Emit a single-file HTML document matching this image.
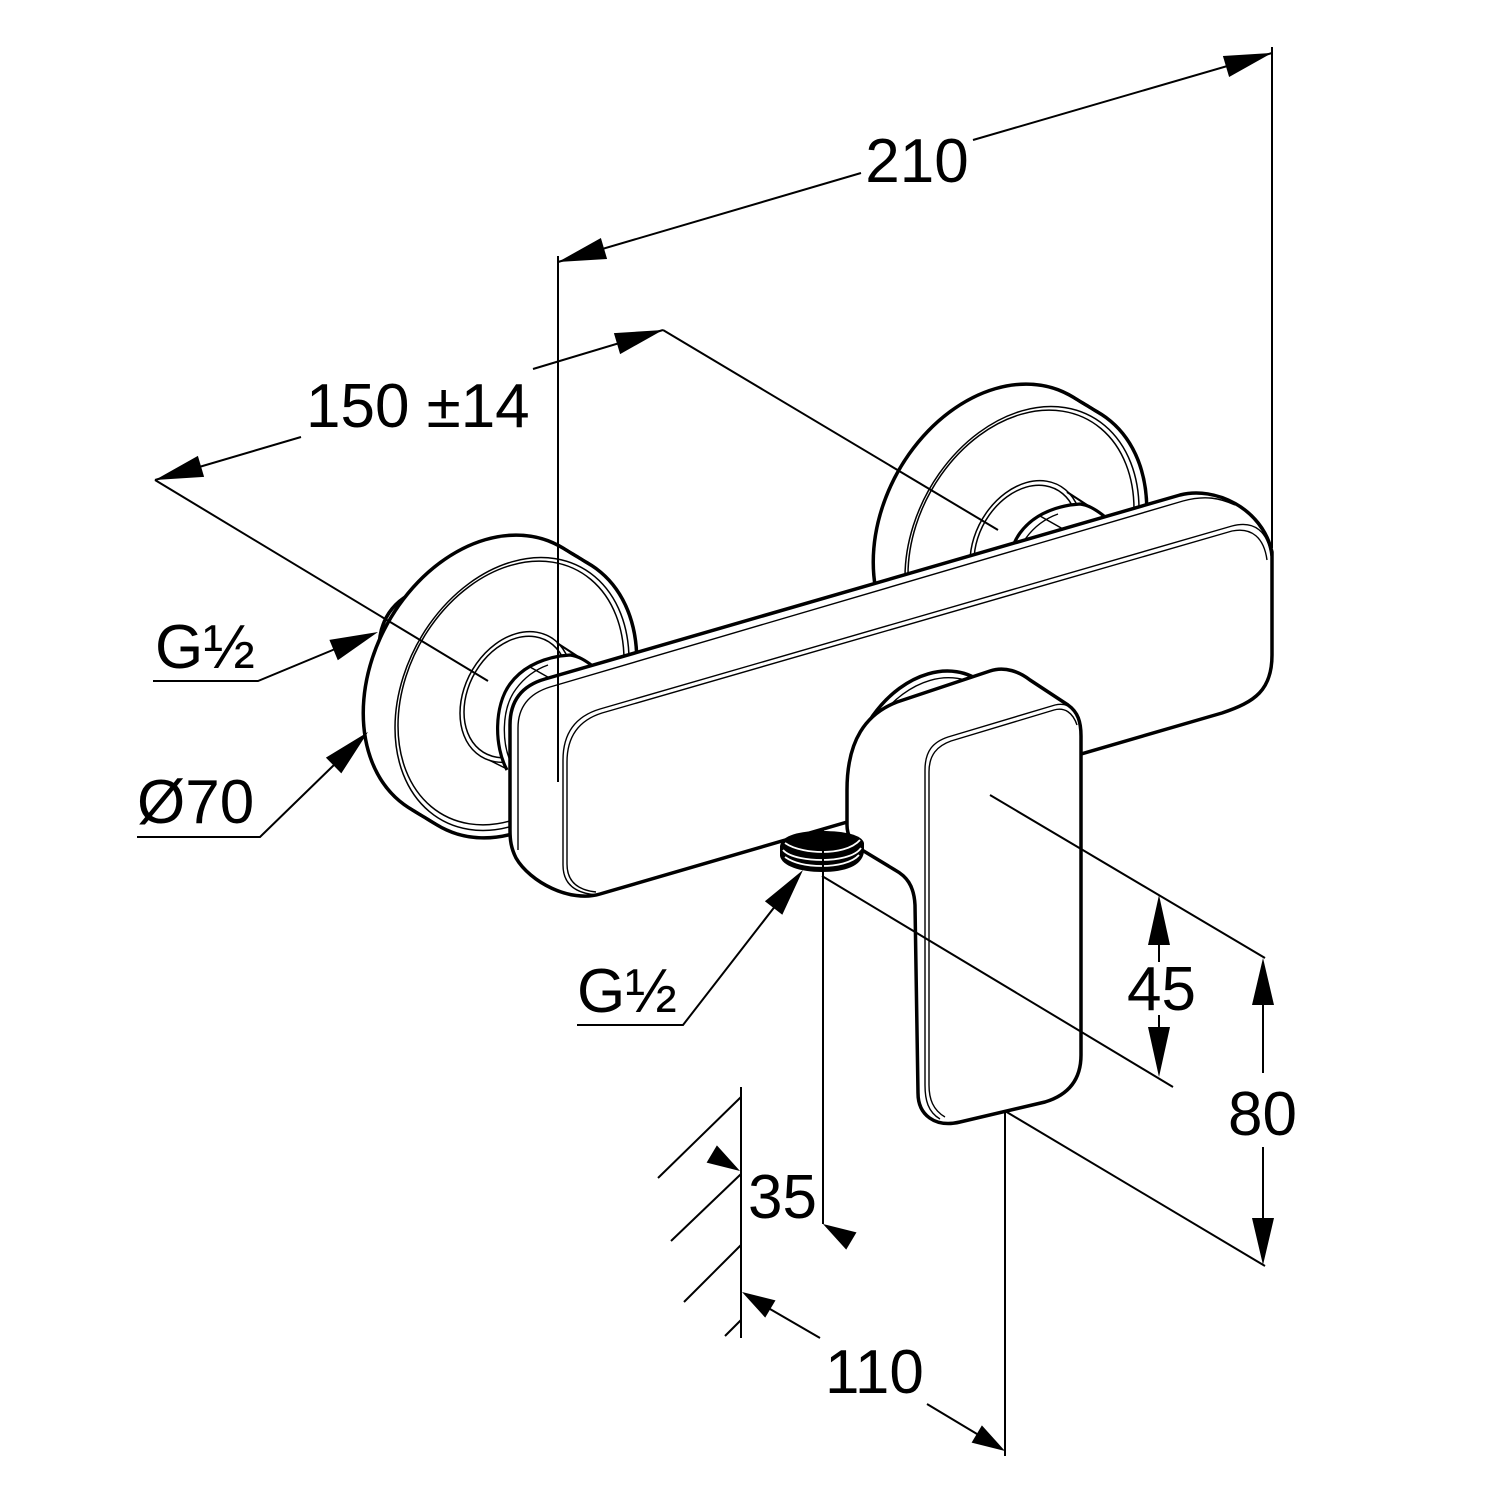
<!DOCTYPE html>
<html><head><meta charset="utf-8"><style>
html,body{margin:0;padding:0;background:#fff;}
svg{display:block;}
text{font-family:"Liberation Sans",Arial,sans-serif;font-size:62px;fill:#000;}
</style></head><body>
<svg width="1500" height="1500" viewBox="0 0 1500 1500" xmlns="http://www.w3.org/2000/svg">
<rect width="1500" height="1500" fill="#fff"/>

<!-- pipe stub behind left escutcheon -->
<path d="M380,658 C376,628 388,602 419,590" fill="none" stroke="#000" stroke-width="3.5"/>
<path d="M388,648 C386,625 396,606 416,597" fill="none" stroke="#000" stroke-width="1.5"/>

<!-- LEFT ESCUTCHEON -->
<g id="escL">
  <g fill="none" stroke="#000" stroke-width="7">
    <circle r="1" vector-effect="non-scaling-stroke" transform="matrix(121,-35.1,0,136.7,486,678)"/>
    <circle r="1" vector-effect="non-scaling-stroke" transform="matrix(121,-35.1,0,136.7,489.5,680.1)"/>
    <circle r="1" vector-effect="non-scaling-stroke" transform="matrix(121,-35.1,0,136.7,493,682.3)"/>
    <circle r="1" vector-effect="non-scaling-stroke" transform="matrix(121,-35.1,0,136.7,496.5,684.4)"/>
    <circle r="1" vector-effect="non-scaling-stroke" transform="matrix(121,-35.1,0,136.7,500,686.5)"/>
    <circle r="1" vector-effect="non-scaling-stroke" transform="matrix(121,-35.1,0,136.7,503.5,688.6)"/>
    <circle r="1" vector-effect="non-scaling-stroke" transform="matrix(121,-35.1,0,136.7,507,690.8)"/>
    <circle r="1" vector-effect="non-scaling-stroke" transform="matrix(121,-35.1,0,136.7,510.5,692.9)"/>
    <circle r="1" vector-effect="non-scaling-stroke" transform="matrix(121,-35.1,0,136.7,514,695)"/>
  </g>
  <g fill="#fff" stroke="none">
    <circle r="1" transform="matrix(121,-35.1,0,136.7,486,678)"/>
    <circle r="1" transform="matrix(121,-35.1,0,136.7,489.5,680.1)"/>
    <circle r="1" transform="matrix(121,-35.1,0,136.7,493,682.3)"/>
    <circle r="1" transform="matrix(121,-35.1,0,136.7,496.5,684.4)"/>
    <circle r="1" transform="matrix(121,-35.1,0,136.7,500,686.5)"/>
    <circle r="1" transform="matrix(121,-35.1,0,136.7,503.5,688.6)"/>
    <circle r="1" transform="matrix(121,-35.1,0,136.7,507,690.8)"/>
    <circle r="1" transform="matrix(121,-35.1,0,136.7,510.5,692.9)"/>
    <circle r="1" transform="matrix(121,-35.1,0,136.7,514,695)"/>
  </g>
  <g fill="none" stroke="#000" stroke-width="1.5">
    <circle r="1" vector-effect="non-scaling-stroke" transform="matrix(117,-33.9,0,132.2,512,694)"/>
    <circle r="1" vector-effect="non-scaling-stroke" transform="matrix(113,-32.8,0,127.7,511,693)"/>
    <circle r="1" vector-effect="non-scaling-stroke" transform="matrix(56,-16.2,0,63.3,516,697)"/>
    <circle r="1" vector-effect="non-scaling-stroke" transform="matrix(52,-15.1,0,58.8,516,697)"/>
  </g>
  <!-- connector -->
  <path d="M507,772 C494,747 494,706 510,684 C521,669 537,660 560,656 L572,655 L594,667 L610,720 L560,790 Z" fill="#fff"/>
  <path d="M507,770 C494,746 494,706 510,684 C521,669 537,660 560,656 L570,655 C578,656 585,660 594,667" fill="none" stroke="#000" stroke-width="3.2"/>
  <path d="M513,767 C501,745 501,709 516,689 C524,678 534,670 548,665" fill="none" stroke="#000" stroke-width="1.4"/>
  <path d="M530,667 L553,680" fill="none" stroke="#000" stroke-width="1.5"/>
  <path d="M557,643 L594,667" fill="none" stroke="#000" stroke-width="2"/>
  <path d="M489,760 L507,769" fill="none" stroke="#000" stroke-width="1.5"/>
</g>

<!-- RIGHT ESCUTCHEON -->
<g transform="translate(510,-151)">
  <g fill="none" stroke="#000" stroke-width="7">
    <circle r="1" vector-effect="non-scaling-stroke" transform="matrix(121,-35.1,0,136.7,486,678)"/>
    <circle r="1" vector-effect="non-scaling-stroke" transform="matrix(121,-35.1,0,136.7,489.5,680.1)"/>
    <circle r="1" vector-effect="non-scaling-stroke" transform="matrix(121,-35.1,0,136.7,493,682.3)"/>
    <circle r="1" vector-effect="non-scaling-stroke" transform="matrix(121,-35.1,0,136.7,496.5,684.4)"/>
    <circle r="1" vector-effect="non-scaling-stroke" transform="matrix(121,-35.1,0,136.7,500,686.5)"/>
    <circle r="1" vector-effect="non-scaling-stroke" transform="matrix(121,-35.1,0,136.7,503.5,688.6)"/>
    <circle r="1" vector-effect="non-scaling-stroke" transform="matrix(121,-35.1,0,136.7,507,690.8)"/>
    <circle r="1" vector-effect="non-scaling-stroke" transform="matrix(121,-35.1,0,136.7,510.5,692.9)"/>
    <circle r="1" vector-effect="non-scaling-stroke" transform="matrix(121,-35.1,0,136.7,514,695)"/>
  </g>
  <g fill="#fff" stroke="none">
    <circle r="1" transform="matrix(121,-35.1,0,136.7,486,678)"/>
    <circle r="1" transform="matrix(121,-35.1,0,136.7,489.5,680.1)"/>
    <circle r="1" transform="matrix(121,-35.1,0,136.7,493,682.3)"/>
    <circle r="1" transform="matrix(121,-35.1,0,136.7,496.5,684.4)"/>
    <circle r="1" transform="matrix(121,-35.1,0,136.7,500,686.5)"/>
    <circle r="1" transform="matrix(121,-35.1,0,136.7,503.5,688.6)"/>
    <circle r="1" transform="matrix(121,-35.1,0,136.7,507,690.8)"/>
    <circle r="1" transform="matrix(121,-35.1,0,136.7,510.5,692.9)"/>
    <circle r="1" transform="matrix(121,-35.1,0,136.7,514,695)"/>
  </g>
  <g fill="none" stroke="#000" stroke-width="1.5">
    <circle r="1" vector-effect="non-scaling-stroke" transform="matrix(117,-33.9,0,132.2,512,694)"/>
    <circle r="1" vector-effect="non-scaling-stroke" transform="matrix(113,-32.8,0,127.7,511,693)"/>
    <circle r="1" vector-effect="non-scaling-stroke" transform="matrix(56,-16.2,0,63.3,516,697)"/>
    <circle r="1" vector-effect="non-scaling-stroke" transform="matrix(52,-15.1,0,58.8,516,697)"/>
  </g>
  <path d="M507,772 C494,747 494,706 510,684 C521,669 537,660 560,656 L572,655 L594,667 L610,720 L560,790 Z" fill="#fff"/>
  <path d="M507,770 C494,746 494,706 510,684 C521,669 537,660 560,656 L570,655 C578,656 585,660 594,667" fill="none" stroke="#000" stroke-width="3.2"/>
  <path d="M513,767 C501,745 501,709 516,689 C524,678 534,670 548,665" fill="none" stroke="#000" stroke-width="1.4"/>
  <path d="M530,667 L553,680" fill="none" stroke="#000" stroke-width="1.5"/>
  <path d="M557,643 L594,667" fill="none" stroke="#000" stroke-width="2"/>
</g>

<!-- BODY -->
<path d="M510,725 Q510,689 545,679 L1180,495 C1215,486 1262,508 1272,552 L1272,655 C1272,690 1255,702 1222,713 L600,894 C570,903 530,882 516,858 C511,848 510,840 510,830 Z" fill="#fff" stroke="#000" stroke-width="3.5" stroke-linejoin="round"/>
<g fill="none" stroke="#000" stroke-width="1.4">
  <path d="M1271,556 C1268,532 1255,520 1232,526 L600,709 Q563,720 563,760 L563,865 Q563,893 598,895"/>
  <path d="M1267,560 C1264,538 1252,527 1232,531 L602,713 Q567,724 567,762 L567,864 Q567,889 596,892"/>
  <path d="M518,850 L518,728 Q518,697 550,687 L1183,501 C1205,495 1220,498 1235,505"/>
</g>

<!-- LEVER HUB -->
<circle r="1" vector-effect="non-scaling-stroke" transform="matrix(78,-22.6,0,88.1,928,762)" fill="#fff" stroke="#000" stroke-width="3.5"/>
<circle r="1" vector-effect="non-scaling-stroke" transform="matrix(74,-21.5,0,83.6,930,764)" fill="none" stroke="#000" stroke-width="1.4"/>

<!-- LEVER -->
<path d="M918,1093 L915,905 C914,885 906,876 895,870 L862,850 C852,844 847,836 847,825 L847,790 C847,740 866,714 897,702 L990,671 C1005,666 1020,672 1030,680 L1068,705 C1078,712 1081,722 1081,736 L1081,1055 C1081,1080 1068,1095 1045,1102 L960,1122 C935,1128 918,1115 918,1093 Z" fill="#fff" stroke="#000" stroke-width="3.5" stroke-linejoin="round"/>
<g fill="none" stroke="#000" stroke-width="1.4">
  <path d="M940,1119 C928,1112 925,1100 925,1085 L925,770 C925,751 933,742 948,737 L1055,705 C1068,702 1076,709 1080,722"/>
  <path d="M945,1117 C933,1110 929,1099 929,1085 L929,772 C929,755 937,746 951,741 L1054,710 C1065,707 1073,713 1077,725"/>
</g>

<!-- OUTLET THREAD -->
<path d="M780,846 C782,835 800,831 822,831 C845,831 862,835 864,843 L864,852 C862,866 845,872 822,872 C800,872 782,866 780,856 Z" fill="#000"/>
<g fill="none" stroke="#fff" stroke-width="1.8">
  <path d="M785,843 C795,850 812,852 822,852 C836,852 852,849 860,840"/>
  <path d="M783,850 C790,858 810,860 822,860 C836,860 855,857 861,848"/>
  <path d="M785,857 C795,864 810,866 822,866 C836,866 852,863 859,855"/>
</g>

<!-- DIMENSIONS -->
<g fill="none" stroke="#000" stroke-width="2">
  <!-- 210 -->
  <path d="M558,256 L558,782"/>
  <path d="M1272,47 L1272,548"/>
  <path d="M558,262 L861,173"/>
  <path d="M973,140 L1272,53"/>
  <!-- 150 -->
  <path d="M155,480 L301,437"/>
  <path d="M533,369 L663,330"/>
  <path d="M155,480 L488,681"/>
  <path d="M663,330 L998,530"/>
  <!-- G1/2 left -->
  <path d="M153,681 L258,681 L340,647"/>
  <!-- O70 -->
  <path d="M137,837 L260,837 L336,763"/>
  <!-- G1/2 lower -->
  <path d="M577,1025 L683,1025 L776,905"/>
  <!-- wall -->
  <path d="M741,1087 L741,1338"/>
  <path d="M741,1097 L658,1178"/>
  <path d="M741,1174 L671,1241"/>
  <path d="M741,1245 L684,1302"/>
  <path d="M741,1320 L725,1336"/>
  <!-- 35 -->
  <path d="M823,828 L823,1224"/>
  <!-- 110 -->
  <path d="M770,1309 L820,1338"/>
  <path d="M927,1404 L977,1434"/>
  <path d="M1005,1111 L1005,1456"/>
  <!-- 45 / 80 ext -->
  <path d="M990,795 L1265,958"/>
  <path d="M822,876 L1173,1087"/>
  <path d="M1005,1111 L1265,1266"/>
  <path d="M1159,945 L1159,962"/>
  <path d="M1159,1015 L1159,1027"/>
  <path d="M1263,1005 L1263,1073"/>
  <path d="M1263,1147 L1263,1218"/>
</g>

<g fill="#000" stroke="none">
  <polygon points="558,262 600.9,238 607.1,259"/>
  <polygon points="1272,53 1229.1,77 1222.9,56"/>
  <polygon points="155,480 197.9,455.9 204.1,476.9"/>
  <polygon points="663,330 620.1,354.1 613.9,333.1"/>
  <polygon points="378,632 337.8,660.3 329.4,639.9"/>
  <polygon points="368,732 341.3,773.4 325.9,757.6"/>
  <polygon points="803,870 782.3,914.7 764.9,901.3"/>
  <polygon points="740,1171 706.6,1162.6 716.9,1145.4"/>
  <polygon points="823,1224 856.5,1232.4 846.2,1249.6"/>
  <polygon points="742,1292 775.5,1300.4 765.2,1317.6"/>
  <polygon points="1005,1451 971.6,1442.6 981.9,1425.4"/>
  <polygon points="1159,895 1148,945 1170,945"/>
  <polygon points="1159,1077 1148,1027 1170,1027"/>
  <polygon points="1263,958 1252,1005 1274,1005"/>
  <polygon points="1263,1265 1252,1218 1274,1218"/>
</g>

<!-- TEXT -->
<text x="917" y="182" text-anchor="middle">210</text>
<text x="306" y="427">150 ±14</text>
<text x="155" y="668">G½</text>
<text x="137" y="823">Ø70</text>
<text x="577" y="1012">G½</text>
<text x="748" y="1218">35</text>
<text x="825" y="1393">110</text>
<text x="1127" y="1010">45</text>
<text x="1228" y="1135">80</text>
</svg>
</body></html>
